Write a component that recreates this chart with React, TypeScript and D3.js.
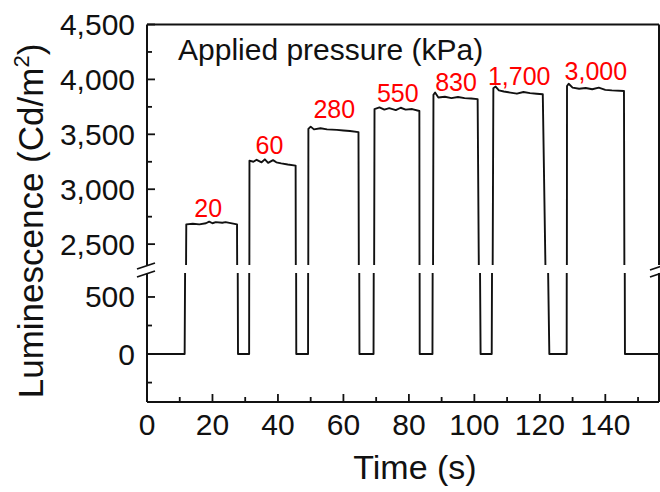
import * as d3 from 'd3';

// luminescence trace (time in s, luminance in Cd/m2)
const timeS: number[] = [
    0, 11.5, 12.0, 14, 16, 18, 19, 20, 21, 23, 24, 27.5, 27.8,
    31.2, 31.3, 32.5, 33.5, 35, 36, 37, 38.5, 39.5, 41, 43, 45.4, 45.6,
    49.2, 49.3, 50, 51, 53, 55, 58, 60, 62, 64.6, 64.9,
    69.2, 69.5, 71, 72.5, 74, 76, 77.5, 79, 81, 83.2, 83.3,
    87.2, 87.5, 88, 89, 91, 93, 95, 97, 99, 101, 101.9,
    105.3, 105.8, 106.5, 107.5, 109, 111, 113, 115, 117, 119, 120.9, 122.9,
    128.2, 128.3, 128.8, 130, 132, 134, 136, 138, 140, 142, 145.7, 146.0,
    156.5,
];
const luminance: number[] = [
    0, 0, 2680, 2685, 2680, 2690, 2705, 2690, 2700, 2695, 2700, 2680, 0,
    0, 3260, 3250, 3268, 3245, 3272, 3240, 3265, 3245, 3235, 3225, 3215, 0,
    0, 3550, 3570, 3545, 3555, 3545, 3540, 3535, 3530, 3520, 0,
    0, 3730, 3745, 3725, 3738, 3720, 3742, 3725, 3730, 3712, 0,
    0, 3860, 3880, 3835, 3842, 3830, 3840, 3830, 3826, 3820, 0,
    0, 3920, 3935, 3900, 3890, 3880, 3870, 3885, 3875, 3870, 3865, 0,
    0, 3940, 3960, 3925, 3915, 3922, 3910, 3925, 3905, 3900, 3895, 0,
    0,
];

// applied pressure annotations (kPa) and where they sit in data units
const pressureLabels: string[] = ['20', '60', '280', '550', '830', '1,700', '3,000'];
const labelTimes: number[] = [18.7, 37.4, 57.2, 76.6, 94.4, 113.7, 137.1];
const labelLevels: number[] = [2750, 3320, 3646, 3797, 3897, 3949, 3995];

const xTicks: number[] = [0, 20, 40, 60, 80, 100, 120, 140];
const xMinorTicks: number[] = [10, 30, 50, 70, 90, 110, 130, 150];
const yUpperTicks: number[] = [2500, 3000, 3500, 4000, 4500];
const yUpperMinor: number[] = [2750, 3250, 3750, 4250];
const yLowerTicks: number[] = [0, 500];
const yLowerMinor: number[] = [-250, 250];

const W = 660;
const H = 492;
const left = 147, right = 659, top = 24.5, bottom = 402;
const breakTop = 265, breakBottom = 273;
const font = "'Liberation Sans', Arial, Helvetica, sans-serif";

export default function App() {
    const x = d3.scaleLinear().domain([0, 156.4]).range([left, right]);
    const yU = d3.scaleLinear().domain([2310, 4500]).range([breakTop, top]);
    const yL = d3.scaleLinear().domain([-420, 710]).range([bottom, breakBottom]);

    const pts = timeS.map((t, i) => [t, luminance[i]] as [number, number]);
    const lineU = d3.line<[number, number]>().x(d => x(d[0])).y(d => yU(d[1]));
    const lineL = d3.line<[number, number]>().x(d => x(d[0])).y(d => yL(d[1]));
    const fmt = d3.format(',');

    const stroke = '#111';

    const breakMark = (cx: number, cy: number, key: string) => (
        <line key={key} x1={cx - 9} y1={cy + 3} x2={cx + 9} y2={cy - 3} stroke={stroke} strokeWidth={1.8} />
    );

    return (
        <svg width={W} height={H} style={{ position: 'absolute', left: 0, top: 0, background: '#fff' }} fontFamily={font}>
            <defs>
                <clipPath id="clipU"><rect x={left} y={top} width={right - left} height={breakTop - top} /></clipPath>
                <clipPath id="clipL"><rect x={left} y={breakBottom} width={right - left} height={bottom - breakBottom} /></clipPath>
            </defs>

            {/* data, drawn once per axis segment */}
            <path d={lineU(pts) || ''} fill="none" stroke={stroke} strokeWidth={1.9} clipPath="url(#clipU)" strokeLinejoin="round" />
            <path d={lineL(pts) || ''} fill="none" stroke={stroke} strokeWidth={1.9} clipPath="url(#clipL)" strokeLinejoin="round" />

            {/* frame */}
            <g stroke={stroke} strokeWidth={2} fill="none">
                <line x1={left} y1={top} x2={right} y2={top} />
                <line x1={left} y1={bottom} x2={right} y2={bottom} />
                <line x1={left} y1={top} x2={left} y2={breakTop} />
                <line x1={left} y1={breakBottom} x2={left} y2={bottom} />
                <line x1={right} y1={top} x2={right} y2={breakTop} />
                <line x1={right} y1={breakBottom} x2={right} y2={bottom} />
            </g>
            {breakMark(left - 1, breakTop + 1, 'bl1')}
            {breakMark(left - 1, breakBottom + 1, 'bl2')}
            {breakMark(right, breakTop + 2, 'br1')}
            {breakMark(right, breakBottom + 1, 'br2')}

            {/* x axis */}
            {xTicks.map(t => (
                <g key={'xt' + t}>
                    <line x1={x(t)} x2={x(t)} y1={bottom} y2={bottom - 8} stroke={stroke} strokeWidth={1.8} />
                    <text x={x(t)} y={435} fontSize={30} textAnchor="middle" fill="#111">{t}</text>
                </g>
            ))}
            {xMinorTicks.filter(t => x(t) < right).map(t => (
                <line key={'xm' + t} x1={x(t)} x2={x(t)} y1={bottom} y2={bottom - 5} stroke={stroke} strokeWidth={1.8} />
            ))}

            {/* y axis, upper segment */}
            {yUpperTicks.map(v => (
                <g key={'yu' + v}>
                    <line x1={left} x2={left + 8} y1={yU(v)} y2={yU(v)} stroke={stroke} strokeWidth={1.8} />
                    <text x={135} y={yU(v)} dy="0.35em" fontSize={30} textAnchor="end" fill="#111">{fmt(v)}</text>
                </g>
            ))}
            {yUpperMinor.map(v => (
                <line key={'yum' + v} x1={left} x2={left + 5} y1={yU(v)} y2={yU(v)} stroke={stroke} strokeWidth={1.8} />
            ))}

            {/* y axis, lower segment */}
            {yLowerTicks.map(v => (
                <g key={'yl' + v}>
                    <line x1={left} x2={left + 8} y1={yL(v)} y2={yL(v)} stroke={stroke} strokeWidth={1.8} />
                    <text x={135} y={yL(v)} dy="0.35em" fontSize={30} textAnchor="end" fill="#111">{fmt(v)}</text>
                </g>
            ))}
            {yLowerMinor.map(v => (
                <line key={'ylm' + v} x1={left} x2={left + 5} y1={yL(v)} y2={yL(v)} stroke={stroke} strokeWidth={1.8} />
            ))}

            {/* titles */}
            <text x={415} y={479} fontSize={34} textAnchor="middle" fill="#111">Time (s)</text>
            <text transform="translate(43,221) rotate(-90)" fontSize={35} textAnchor="middle" fill="#111">
                Luminescence (Cd/m<tspan fontSize={22} dy={-14}>2</tspan><tspan dy={14}>)</tspan>
            </text>
            <text x={178} y={60} fontSize={30} fill="#111">Applied pressure (kPa)</text>

            {/* pressure labels */}
            {pressureLabels.map((p, i) => (
                <text key={'pl' + i} x={x(labelTimes[i])} y={yU(labelLevels[i])} fontSize={25} textAnchor="middle" fill="#ff0000">{p}</text>
            ))}
        </svg>
    );
}
